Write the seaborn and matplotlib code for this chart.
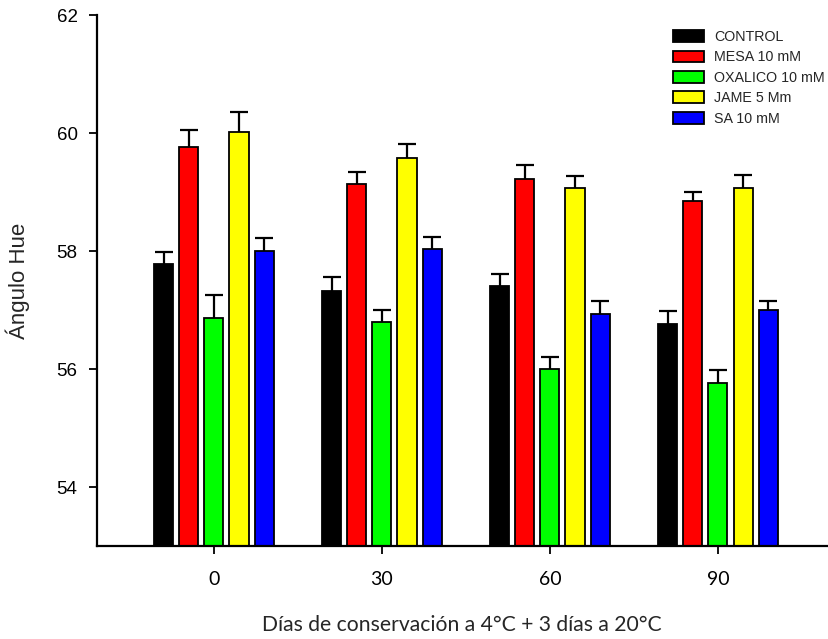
import matplotlib
matplotlib.use("Agg")
import matplotlib.pyplot as plt
import seaborn as sns
import pandas as pd
import numpy as np

# Storage days at 4 °C (+3 days at 20 °C)
days = ["0", "30", "60", "90"]
treatments = ["CONTROL", "MESA 10 mM", "OXALICO 10 mM", "JAME 5 Mm", "SA 10 mM"]
colors = ["#000000", "#ff0000", "#00ff00", "#ffff00", "#0000ff"]

# Mean hue angle per treatment (one value per storage day)
control = [57.78, 57.32, 57.41, 56.77]
mesa = [59.77, 59.14, 59.23, 58.86]
oxalico = [56.86, 56.80, 56.00, 55.77]
jame = [60.03, 59.59, 59.07, 59.08]
sa = [58.01, 58.04, 56.93, 57.00]

# Standard errors (upper bars only)
control_err = [0.21, 0.24, 0.21, 0.21]
mesa_err = [0.29, 0.21, 0.23, 0.15]
oxalico_err = [0.39, 0.21, 0.20, 0.22]
jame_err = [0.33, 0.23, 0.20, 0.22]
sa_err = [0.22, 0.20, 0.23, 0.16]

means = [control, mesa, oxalico, jame, sa]
errors = [control_err, mesa_err, oxalico_err, jame_err, sa_err]

rows = []
for t, vals in zip(treatments, means):
    for d, v in zip(days, vals):
        rows.append({"day": d, "treatment": t, "value": v})
df = pd.DataFrame(rows)

sns.set_style("ticks")
plt.rcParams["font.family"] = ["Liberation Sans", "DejaVu Sans"]

fig = plt.figure(figsize=(8.29, 6.39), dpi=100)
ax = fig.add_axes([97 / 829, 93 / 639, 730 / 829, 530.5 / 639])

sns.barplot(
    data=df, x="day", y="value", hue="treatment",
    order=days, hue_order=treatments, palette=colors,
    width=0.746, gap=0.24, edgecolor="black", linewidth=1.3,
    errorbar=None, legend=False, ax=ax, saturation=1,
)
bar_groups = list(ax.containers)

# Upper error bars on each bar, positioned from the drawn patches
for container, errs in zip(bar_groups, errors):
    xs = [p.get_x() + p.get_width() / 2 for p in container.patches]
    ys = [p.get_height() for p in container.patches]
    eb = ax.errorbar(xs, ys, yerr=[np.zeros(len(errs)), errs], fmt="none",
                     ecolor="black", elinewidth=1.6, capsize=6.3, capthick=1.6,
                     zorder=1)
    caplines = eb[1]
    if len(caplines) == 2:
        caplines[0].set_visible(False)

ax.set_ylim(53, 62)
ax.set_xlim(-0.696, 3.649)
ax.set_yticks([54, 56, 58, 60, 62])

for s in ["top", "right"]:
    ax.spines[s].set_visible(False)
for s in ["left", "bottom"]:
    ax.spines[s].set_linewidth(1.6)
    ax.spines[s].set_color("black")

ax.tick_params(axis="y", length=6, width=1.3, pad=8, colors="black")
ax.tick_params(axis="x", length=6, width=1.3, pad=12, colors="black")
for lbl in ax.get_yticklabels():
    lbl.set_fontfamily("Liberation Sans")
    lbl.set_fontsize(13.5)
for lbl in ax.get_xticklabels():
    lbl.set_fontfamily("Lato")
    lbl.set_fontsize(14)

ax.set_ylabel("Ángulo Hue", fontsize=16, family="Liberation Sans")
ax.yaxis.set_label_coords(-0.092, 0.5)
ax.set_xlabel("Días de conservación a 4°C + 3 días a 20°C", fontsize=15.2, family="Lato")
ax.xaxis.set_label_coords(0.5, -0.149)
ax.xaxis.label.set_va("center")

handles = [c.patches[0] for c in bar_groups]
fig.legend(
    handles, treatments, loc="upper left",
    bbox_to_anchor=(673 / 829, 1 - 30 / 639), bbox_transform=fig.transFigure,
    frameon=False, handlelength=2.2, handleheight=0.9,
    handletextpad=0.65, labelspacing=0.45, borderpad=0, borderaxespad=0,
    prop={"family": "Liberation Sans", "size": 10.3},
)

fig.savefig("out.png", dpi=100)
